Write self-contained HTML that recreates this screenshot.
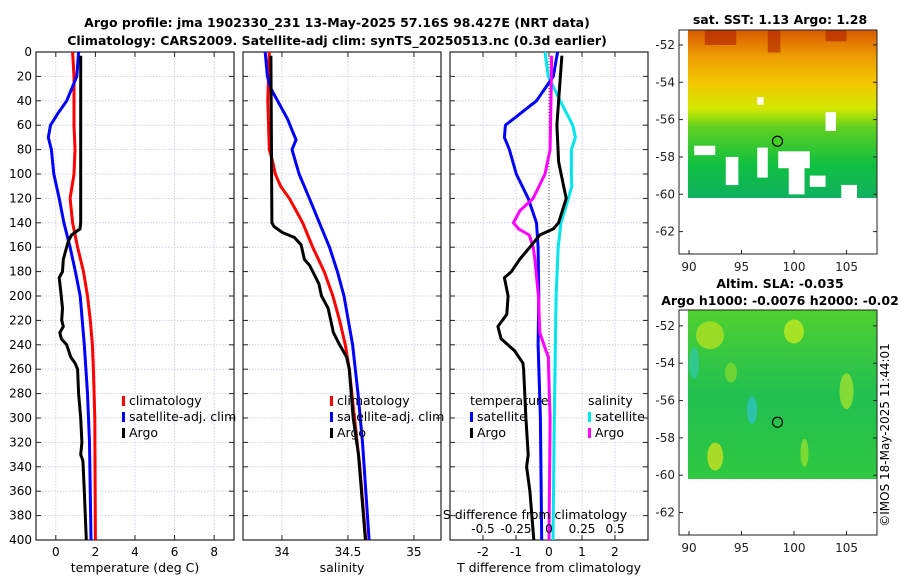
<!DOCTYPE html>
<html><head><meta charset="utf-8"><style>
html,body{margin:0;padding:0;background:#fff}
svg{display:block;font-family:"DejaVu Sans","Liberation Sans",sans-serif}
</style></head><body>
<svg id="fig" width="900" height="580" viewBox="0 0 900 580" xmlns="http://www.w3.org/2000/svg">
<text x="337" y="27" text-anchor="middle" font-size="12.5" font-weight="bold">Argo profile: jma 1902330_231 13-May-2025 57.16S 98.427E (NRT data)</text>
<text x="337" y="45" text-anchor="middle" font-size="12.5" font-weight="bold">Climatology: CARS2009. Satellite-adj clim: synTS_20250513.nc (0.3d earlier)</text>
<g id="panels"></g>
<g id="maps"></g>
<text transform="translate(889,435) rotate(-90)" text-anchor="middle" font-size="12">©IMOS 18-May-2025 11:44:01</text>
</svg>
<script>
// ---- data ----
const depthTicks=[0,20,40,60,80,100,120,140,160,180,200,220,240,260,280,300,320,340,360,380,400];
const tTicks=[0,2,4,6,8];
const sTicks=[34,34.5,35];
const dTicks=[-2,-1,0,1,2];
const sdTicks=[-0.5,-0.25,0,0.25,0.5];
const sdTickLabels=["-0.5","-0.25","0","0.25","0.5"];

const tClimDepth=[0,20,60,80,100,120,140,160,180,200,220,240,260,300,400];
const tClimVal=[0.85,0.92,0.92,0.97,0.92,0.72,0.85,1.1,1.4,1.6,1.74,1.85,1.9,1.97,2.0];
const tSatDepth=[0,20,40,50,60,70,80,100,120,140,160,180,200,240,280,320,400];
const tSatVal=[1.15,1.06,0.55,0.12,-0.27,-0.38,-0.22,-0.1,0.17,0.41,0.72,0.99,1.23,1.44,1.6,1.7,1.78];
const tArgoDepth=[3,140,145,150,155,170,180,185,195,210,220,225,230,235,240,250,255,260,280,300,320,330,335,360,400];
const tArgoVal=[1.26,1.26,1.22,0.8,0.63,0.38,0.34,0.17,0.24,0.34,0.3,0.38,0.2,0.28,0.55,0.75,0.97,1.1,1.15,1.26,1.32,1.26,1.37,1.44,1.54];

const sClimDepth=[0,40,80,90,100,110,120,130,140,160,180,200,220,240,260,300,340,400];
const sClimVal=[33.904,33.893,33.904,33.93,33.95,33.99,34.056,34.107,34.157,34.233,34.32,34.386,34.437,34.48,34.51,34.55,34.59,34.635];
const sSatDepth=[0,20,30,40,55,65,72,80,100,120,140,160,180,200,240,280,320,400];
const sSatVal=[33.873,33.89,33.916,33.967,34.043,34.08,34.107,34.076,34.13,34.208,34.284,34.36,34.42,34.47,34.535,34.576,34.61,34.66];
const sArgoDepth=[3,140,143,148,152,158,170,175,190,200,210,230,240,250,260,300,330,400];
const sArgoVal=[33.916,33.924,33.94,34.005,34.094,34.145,34.17,34.21,34.28,34.3,34.35,34.39,34.437,34.49,34.51,34.54,34.58,34.632];

const dTArgoDepth=[3,40,60,90,120,140,145,150,160,170,180,185,200,215,225,235,245,255,260,300,330,340,360,400];
const dTArgoVal=[0.39,0.29,0.24,0.29,0.52,0.29,0.13,-0.28,-0.58,-0.89,-1.14,-1.35,-1.24,-1.28,-1.55,-1.45,-1.04,-0.79,-0.77,-0.7,-0.63,-0.68,-0.58,-0.46];
const dTSatDepth=[0,20,40,60,70,80,100,120,140,160,200,240,300,400];
const dTSatVal=[0.26,0.13,-0.38,-1.32,-1.35,-1.2,-0.99,-0.63,-0.38,-0.33,-0.31,-0.33,-0.26,-0.22];
const dSSatDepth=[0,20,40,60,70,80,100,110,130,140,160,200,300,400];
const dSSatVal=[-0.03,-0.005,0.084,0.18,0.2,0.17,0.17,0.173,0.12,0.09,0.07,0.054,0.04,0.03];
const dSArgoDepth=[3,40,80,100,120,130,140,145,150,160,170,200,230,245,250,280,300,400];
const dSArgoVal=[0.02,0.015,0.008,-0.03,-0.12,-0.22,-0.27,-0.23,-0.15,-0.12,-0.107,-0.08,-0.07,-0.023,-0.005,0.002,0.008,0];

const mapLonTicks=[90,95,100,105];
const mapLatTicks=[-52,-54,-56,-58,-60,-62];
const argoLon=98.427, argoLat=-57.16;

// ---- helpers ----
const NS="http://www.w3.org/2000/svg";
function mk(tag,attrs,parent){const e=document.createElementNS(NS,tag);for(const k in attrs)e.setAttribute(k,attrs[k]);parent.appendChild(e);return e;}
const Y0=52,Y1=540;
const yD=d=>Y0+(d/400)*(Y1-Y0);
const panels=document.getElementById('panels');

function panel(name,x0,x1,xmin,xmax,ticks,labels,xlabel,showY){
  const g=mk('g',{},panels);
  
  
  const xs=v=>x0+(v-xmin)/(xmax-xmin)*(x1-x0);
  depthTicks.forEach((d,i)=>{
    if(d>0&&d<400){const l=mk('line',{x1:x0,x2:x1,y1:yD(d),y2:yD(d),stroke:'#c4c8e0','stroke-width':0.8,'stroke-dasharray':'1.5,1.5'},g);
    }
    mk('line',{x1:x0,x2:x0+5,y1:yD(d),y2:yD(d),stroke:'#222'},g);
    mk('line',{x1:x1-5,x2:x1,y1:yD(d),y2:yD(d),stroke:'#222'},g);
    if(showY){const t=mk('text',{x:x0-4,y:yD(d)+4,'text-anchor':'end','font-size':12},g);t.textContent=d;
      }
  });
  ticks.forEach((v,i)=>{
    const X=xs(v);
    const l=mk('line',{x1:X,x2:X,y1:Y0,y2:Y1,stroke:'#c4c8e0','stroke-width':0.8,'stroke-dasharray':'1.5,1.5'},g);
    
    mk('line',{x1:X,x2:X,y1:Y0,y2:Y0+5,stroke:'#222'},g);
    mk('line',{x1:X,x2:X,y1:Y1-5,y2:Y1,stroke:'#222'},g);
    const t=mk('text',{x:X,y:556,'text-anchor':'middle','font-size':12},g);t.textContent=labels[i];
    
  });
  const r=mk('rect',{x:x0,y:Y0,width:x1-x0,height:Y1-Y0,fill:'none',stroke:'#222','stroke-width':1.2},g);
  
  const xl=mk('text',{x:(x0+x1)/2,y:572,'text-anchor':'middle','font-size':12.5},g);xl.textContent=xlabel;
  
  return {g,xs};
}
function line(p,depths,vals,color,name,xsOverride){
  const xs=xsOverride||p.xs;
  const pts=depths.map((d,i)=>xs(vals[i]).toFixed(1)+','+yD(d).toFixed(1)).join(' ');
  const l=mk('polyline',{points:pts,fill:'none',stroke:color,'stroke-width':3,'stroke-linejoin':'round'},p.g);
  
}
function legend(p,x,y,items){
  items.forEach((it,i)=>{
    const yy=y+i*16;
    if(it.c){mk('rect',{x:x,y:yy-9,width:3,height:10,fill:it.c},p.g);}
    const t=mk('text',{x:x+(it.c?7:0),y:yy,'font-size':12.5},p.g);t.textContent=it.t;
    
  });
}

const p1=panel('temperature-panel',36,234,-1,9,tTicks,tTicks.map(String),'temperature (deg C)',true);
line(p1,tClimDepth,tClimVal,'#f00','temp-climatology-line');
line(p1,tSatDepth,tSatVal,'#00f','temp-satellite-line');
line(p1,tArgoDepth,tArgoVal,'#000','temp-argo-line');
legend(p1,122,405,[{c:'#f00',t:'climatology'},{c:'#00f',t:'satellite-adj. clim'},{c:'#000',t:'Argo'}]);

const p2=panel('salinity-panel',243,441,33.705,35.205,sTicks,["34","34.5","35"],'salinity',false);
line(p2,sClimDepth,sClimVal,'#f00','sal-climatology-line');
line(p2,sSatDepth,sSatVal,'#00f','sal-satellite-line');
line(p2,sArgoDepth,sArgoVal,'#000','sal-argo-line');
legend(p2,330,405,[{c:'#f00',t:'climatology'},{c:'#00f',t:'satellite-adj. clim'},{c:'#000',t:'Argo'}]);

const p3=panel('difference-panel',450,648,-3,3,dTicks,dTicks.map(String),'T difference from climatology',false);
const xsS=v=>p3.xs(v*4);
const zl=mk('line',{x1:p3.xs(0),x2:p3.xs(0),y1:Y0,y2:Y1,stroke:'#444','stroke-width':1,'stroke-dasharray':'1,2'},p3.g);

line(p3,dSSatDepth,dSSatVal,'#00e5ee','sdiff-satellite-line',xsS);
line(p3,dTSatDepth,dTSatVal,'#00f','tdiff-satellite-line');
line(p3,dSArgoDepth,dSArgoVal,'#f0f','sdiff-argo-line',xsS);
line(p3,dTArgoDepth,dTArgoVal,'#000','tdiff-argo-line');
legend(p3,470,405,[{t:'temperature'},{c:'#00f',t:'satellite'},{c:'#000',t:'Argo'}]);
legend(p3,588,405,[{t:'salinity'},{c:'#00e5ee',t:'satellite'},{c:'#f0f',t:'Argo'}]);
const st=mk('text',{x:535,y:519,'text-anchor':'middle','font-size':12.5},p3.g);st.textContent='S difference from climatology';

sdTicks.forEach((v,i)=>{const t=mk('text',{x:xsS(v),y:533,'text-anchor':'middle','font-size':12},p3.g);t.textContent=sdTickLabels[i];
  });

// ---- maps ----
const maps=document.getElementById('maps');
function map(name,fx0,fy0,fy1,latTop,title1,title2,kind){
  const g=mk('g',{},maps);
  
  const fx1=877;
  const lonS=v=>fx0+(v-89.05)/(107.9-89.05)*(fx1-fx0);
  const latS=v=>fy0+(latTop-v)/(latTop+63.2)*(fy1-fy0);
  const dx0=lonS(89.9),dy0=fy0,dy1=latS(-60.2);
  const id=name+'-grad';
  const defs=mk('defs',{},g);
  const lg=mk('linearGradient',{id:id,x1:0,y1:0,x2:0,y2:1},defs);
  const stops=kind==='sst'?[[0,'#d85a00'],[0.15,'#ec9a00'],[0.32,'#f4c800'],[0.47,'#d0e800'],[0.58,'#60d020'],[0.8,'#10c040'],[1,'#10b060']]
    :[[0,'#50d030'],[0.5,'#20c050'],[1,'#30c840']];
  stops.forEach(s=>mk('stop',{offset:s[0],'stop-color':s[1]},lg));
  const r=mk('rect',{x:dx0,y:dy0,width:fx1-dx0,height:dy1-dy0,fill:'url(#'+id+')'},g);
  
  if(kind==='sst'){
    [[91.5,-51.2,3,0.8],[97.5,-51.2,1.2,1.2],[103,-51.2,2,0.6]].forEach(h=>{
      mk('rect',{x:lonS(h[0]),y:latS(h[1]),width:h[2]*10.5,height:h[3]*18.75,fill:'#b02000',opacity:0.6},g);});
    [[90.5,-57.4,2,0.5],[93.5,-58,1.2,1.5],[96.5,-57.5,1,1.6],[98.5,-57.7,3,0.9],[99.5,-58.5,1.5,1.5],[103,-55.6,1,1],[96.5,-54.8,0.6,0.4],[104.5,-59.5,1.5,0.7],[101.5,-59,1.5,0.6]].forEach(h=>{
      mk('rect',{x:lonS(h[0]),y:latS(h[1]),width:h[2]*10.5,height:h[3]*18.75,fill:'#fff'},g);});
  } else {
    [[92,-52.5,28,14,'#b0e020'],[100,-52.3,20,12,'#c0e820'],[90.5,-54,10,16,'#30c8a0'],[96,-56.5,10,14,'#30c0c0'],[105,-55.5,14,18,'#a0e030'],[92.5,-59,16,14,'#c8e020'],[101,-58.8,8,14,'#90e030'],[94,-54.5,12,10,'#80d830']].forEach(b=>{
      mk('ellipse',{cx:lonS(b[0]),cy:latS(b[1]),rx:b[2]/2,ry:b[3],fill:b[4],opacity:0.8},g);});
  }
  mk('rect',{x:fx0,y:fy0,width:fx1-fx0,height:fy1-fy0,fill:'none',stroke:'#222','stroke-width':1},g);
  mapLonTicks.forEach(v=>{const X=lonS(v);mk('line',{x1:X,x2:X,y1:fy1,y2:fy1-4,stroke:'#222'},g);
    const t=mk('text',{x:X,y:fy1+17,'text-anchor':'middle','font-size':12,fill:'#222'},g);t.textContent=v;
    });
  mapLatTicks.forEach(v=>{const Y=latS(v);mk('line',{x1:fx0,x2:fx0+4,y1:Y,y2:Y,stroke:'#222'},g);mk('line',{x1:fx1,x2:fx1-4,y1:Y,y2:Y,stroke:'#222'},g);
    const t=mk('text',{x:fx0-4,y:Y+4,'text-anchor':'end','font-size':12,fill:'#222'},g);t.textContent=v;
    });
  const c=mk('circle',{cx:lonS(argoLon),cy:latS(argoLat),r:5,fill:kind==='sst'?'#40d020':'none',stroke:'#000','stroke-width':1.2},g);
  
  const t1=mk('text',{x:780,y:title2?fy0-22:fy0-6,'text-anchor':'middle','font-size':12.5,'font-weight':'bold'},g);t1.textContent=title1;
  
  if(title2){const t2=mk('text',{x:780,y:fy0-5,'text-anchor':'middle','font-size':12.5,'font-weight':'bold'},g);t2.textContent=title2;
    }
}
map('sst-map',679,30,254,-51.2,'sat. SST: 1.13 Argo: 1.28',null,'sst');
map('sla-map',679,310,535,-51.15,'Altim. SLA: -0.035','Argo h1000: -0.0076 h2000: -0.02','sla');
</script>
</body></html>
